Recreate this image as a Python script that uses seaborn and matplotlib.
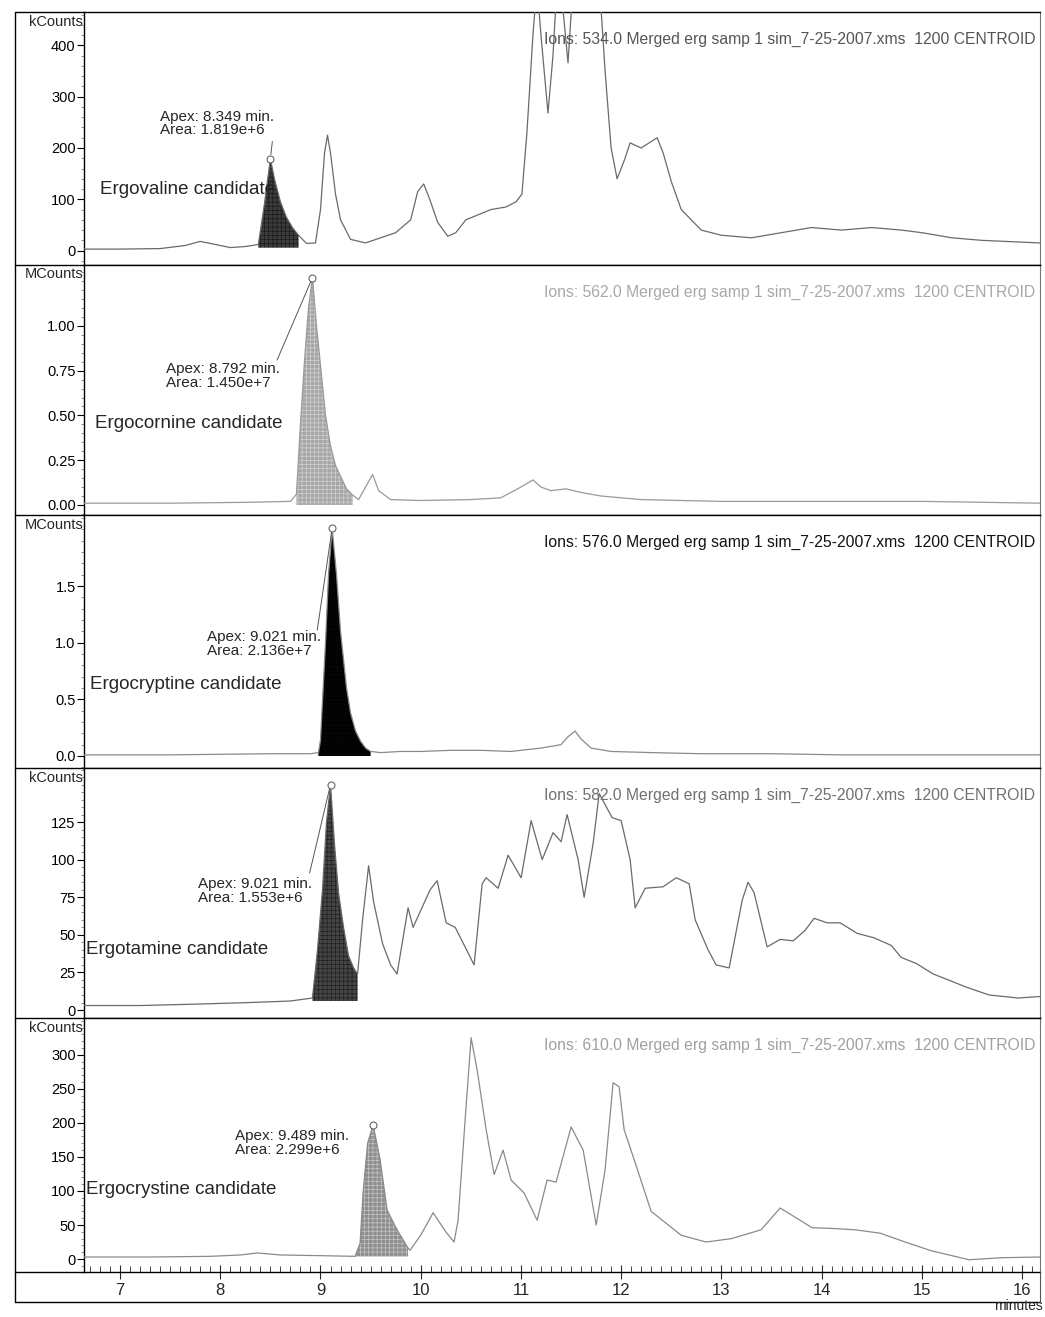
import numpy as np
import pandas as pd
import matplotlib
matplotlib.use("Agg")
import matplotlib.pyplot as plt
import seaborn as sns
from matplotlib.ticker import MultipleLocator, FormatStrFormatter
from matplotlib.lines import Line2D

# ---------------- data ----------------
time_1 = [6.64, 7.0, 7.4, 7.65, 7.8, 7.95, 8.1, 8.25, 8.38, 8.44, 8.50, 8.54, 8.60, 8.66, 8.72, 8.78,
          8.86, 8.95, 9.0, 9.04, 9.07, 9.10, 9.15, 9.2, 9.3, 9.45, 9.6, 9.75, 9.9, 9.97, 10.03, 10.09,
          10.17, 10.27, 10.35, 10.45, 10.55, 10.7, 10.85, 10.95, 11.01, 11.06, 11.12, 11.16, 11.20,
          11.27, 11.32, 11.36, 11.42, 11.47, 11.52, 11.6, 11.7, 11.79, 11.84, 11.90, 11.96, 12.03,
          12.09, 12.2, 12.36, 12.42, 12.5, 12.6, 12.8, 13.0, 13.3, 13.6, 13.9, 14.2, 14.5, 14.8,
          15.0, 15.3, 15.6, 16.18]
signal_1 = [3, 3, 4, 10, 18, 12, 6, 8, 12, 90, 179, 140, 95, 65, 45, 30,
            14, 15, 80, 190, 225, 190, 110, 60, 22, 15, 25, 35, 60, 115, 130, 100,
            55, 28, 35, 60, 68, 80, 85, 95, 110, 230, 420, 520, 420,
            268, 380, 520, 470, 366, 520, 560, 560, 500, 350, 200, 140, 175,
            210, 200, 220, 190, 135, 80, 40, 30, 25, 35, 45, 40, 45, 40,
            35, 25, 20, 15]

time_2 = [6.64, 7.5, 8.3, 8.70, 8.76, 8.80, 8.84, 8.88, 8.92, 8.96, 9.00, 9.05, 9.10, 9.15, 9.20,
          9.26, 9.32, 9.38, 9.45, 9.52, 9.58, 9.7, 10.0, 10.5, 10.8, 11.0, 11.12, 11.2, 11.3,
          11.45, 11.6, 11.8, 12.2, 13.0, 14.0, 15.0, 16.18]
signal_2 = [0.01, 0.01, 0.015, 0.02, 0.06, 0.45, 0.8, 1.1, 1.27, 1.0, 0.78, 0.5, 0.33, 0.22, 0.16,
            0.09, 0.056, 0.03, 0.1, 0.17, 0.08, 0.03, 0.025, 0.03, 0.04, 0.1, 0.14, 0.1, 0.08,
            0.09, 0.07, 0.05, 0.03, 0.02, 0.02, 0.02, 0.01]

time_3 = [6.64, 7.5, 8.5, 8.9, 8.98, 9.00, 9.05, 9.08, 9.116, 9.16, 9.20, 9.23, 9.26, 9.30, 9.35,
          9.40, 9.45, 9.50, 9.6, 9.8, 10.0, 10.3, 10.6, 10.9, 11.2, 11.4, 11.47, 11.54, 11.6,
          11.7, 11.9, 12.3, 12.8, 13.5, 14.2, 15.0, 15.6, 16.18]
signal_3 = [0.01, 0.01, 0.02, 0.02, 0.03, 0.14, 1.0, 1.6, 2.01, 1.6, 1.1, 0.85, 0.6, 0.38, 0.22,
            0.13, 0.07, 0.04, 0.03, 0.04, 0.04, 0.05, 0.05, 0.04, 0.07, 0.1, 0.17, 0.22, 0.15,
            0.07, 0.04, 0.03, 0.02, 0.02, 0.01, 0.01, 0.01, 0.01]

time_4 = [6.64, 7.2, 7.8, 8.3, 8.7, 8.92, 8.97, 9.02, 9.06, 9.10, 9.14, 9.18, 9.23, 9.28, 9.33,
          9.37, 9.42, 9.48, 9.53, 9.62, 9.70, 9.764, 9.874, 9.924, 10.094, 10.164, 10.254, 10.344,
          10.443, 10.533, 10.613, 10.653, 10.773, 10.872, 11.002, 11.102, 11.212, 11.321, 11.401,
          11.461, 11.571, 11.631, 11.721, 11.781, 11.910, 12.000, 12.090, 12.140, 12.240, 12.419,
          12.55, 12.679, 12.739, 12.868, 12.948, 13.078, 13.208, 13.267, 13.327, 13.457, 13.587,
          13.717, 13.836, 13.926, 14.056, 14.186, 14.356, 14.525, 14.695, 14.795, 14.944, 15.114,
          15.453, 15.673, 15.962, 16.18]
signal_4 = [3, 3, 4, 5, 6, 8, 40, 80, 125, 150, 110, 78, 55, 36, 28,
            24, 60, 96, 72, 44, 30, 24, 68, 55, 80, 86, 58, 55,
            42, 30, 84, 88, 81, 103, 88, 126, 100, 118, 112,
            130, 100, 75, 111, 144, 128, 126, 100, 68, 81, 82,
            88, 84, 60, 40, 30, 28, 73, 85, 78, 42, 47,
            46, 53, 61, 58, 58, 51, 48, 43, 35, 31, 24,
            15, 10, 8, 9]

time_5 = [6.64, 7.3, 7.9, 8.2, 8.37, 8.6, 9.0, 9.345, 9.395, 9.425, 9.47, 9.525, 9.595, 9.665,
          9.764, 9.874, 9.894, 10.0, 10.124, 10.25, 10.333, 10.373, 10.443, 10.503, 10.563,
          10.653, 10.733, 10.822, 10.902, 11.032, 11.162, 11.261, 11.351, 11.501, 11.621, 11.751,
          11.840, 11.920, 11.980, 12.030, 12.130, 12.3, 12.599, 12.848, 13.1, 13.397, 13.587,
          13.786, 13.906, 14.1, 14.335, 14.585, 14.834, 15.1, 15.473, 15.8, 16.18]
signal_5 = [3, 3, 4, 6, 9, 6, 5, 4, 23, 97, 170, 197, 146, 72,
            43, 16, 13, 35, 68, 40, 25, 57, 204, 325, 278,
            190, 124, 160, 116, 97, 57, 116, 113, 194, 160, 50,
            131, 259, 253, 190, 146, 70, 35, 25, 30, 43, 75,
            57, 46, 45, 43, 38, 25, 12, -1, 2, 3]

unit_labels = ["kCounts", "MCounts", "MCounts", "kCounts", "kCounts"]
compound_labels = ["Ergovaline candidate", "Ergocornine candidate", "Ergocryptine candidate",
                   "Ergotamine candidate", "Ergocrystine candidate"]
apex_labels = ["Apex: 8.349 min.\nArea: 1.819e+6", "Apex: 8.792 min.\nArea: 1.450e+7",
               "Apex: 9.021 min.\nArea: 2.136e+7", "Apex: 9.021 min.\nArea: 1.553e+6",
               "Apex: 9.489 min.\nArea: 2.299e+6"]
ion_labels = ["Ions: 534.0 Merged erg samp 1 sim_7-25-2007.xms  1200 CENTROID",
              "Ions: 562.0 Merged erg samp 1 sim_7-25-2007.xms  1200 CENTROID",
              "Ions: 576.0 Merged erg samp 1 sim_7-25-2007.xms  1200 CENTROID",
              "Ions: 582.0 Merged erg samp 1 sim_7-25-2007.xms  1200 CENTROID",
              "Ions: 610.0 Merged erg samp 1 sim_7-25-2007.xms  1200 CENTROID"]
peak_windows = [(8.38, 8.78), (8.76, 9.32), (8.98, 9.50), (8.92, 9.37), (9.345, 9.874)]
peak_bases = [6, 0.0, 0.0, 6, 4]
y_ticks = [[0, 100, 200, 300, 400], [0, 0.25, 0.5, 0.75, 1.0], [0, 0.5, 1.0, 1.5],
           [0, 25, 50, 75, 100, 125], [0, 50, 100, 150, 200, 250, 300]]
x_ticks = [7, 8, 9, 10, 11, 12, 13, 14, 15, 16]

# ---------------- styling / layout ----------------
sns.set_style("ticks")
plt.rcParams["font.family"] = ["Liberation Sans", "DejaVu Sans"]
plt.rcParams["hatch.linewidth"] = 0.5

W, H = 1045, 1317
fig = plt.figure(figsize=(W / 100, H / 100), dpi=100)
bounds = [12, 265, 515, 768, 1018, 1272]
LEFT, RIGHT = 84, 1040
XLIM = (6.64, 16.18)

ylims = [(-28, 465), (-0.056, 1.34), (-0.106, 2.127), (-5.3, 161), (-19, 354)]
y_minor = [20, 0.05, 0.1, 5, 10]
y_fmt = ["%d", "%.2f", "%.1f", "%d", "%d"]
trace_colors = ["#6a6a6a", "#9a9a9a", "#8a8a8a", "#6a6a6a", "#8a8a8a"]
fill_colors = ["#3c3c3c", "#a6a6a6", "#050505", "#454545", "#8e8e8e"]
hatch_colors = ["#1a1a1a", "#d0d0d0", "#000000", "#202020", "#c4c4c4"]
ion_colors = ["#555555", "#a8a8a8", "#111111", "#707070", "#a0a0a0"]
cand_pos = [(0.017, 0.30), (0.011, 0.368), (0.006, 0.332), (0.002, 0.272), (0.002, 0.323)]
apex_pos = [(0.0795, 0.56), (0.0858, 0.556), (0.1287, 0.49), (0.119, 0.508), (0.158, 0.508)]
leader_start = [(0.197, 0.488), (0.202, 0.62), (0.244, 0.545), (0.236, 0.58), None]

times = [time_1, time_2, time_3, time_4, time_5]
signals = [signal_1, signal_2, signal_3, signal_4, signal_5]

axes = []
for i in range(5):
    top, bot = bounds[i], bounds[i + 1]
    ax = fig.add_axes([LEFT / W, 1 - bot / H, (RIGHT - LEFT) / W, (bot - top) / H])
    axes.append(ax)
    t = np.array(times[i], dtype=float)
    v = np.array(signals[i], dtype=float)
    df = pd.DataFrame({"time": t, "signal": v})

    # filled candidate peak
    lo, hi = peak_windows[i]
    m = (t >= lo - 1e-9) & (t <= hi + 1e-9)
    ax.fill_between(t[m], peak_bases[i], v[m], facecolor=fill_colors[i],
                    edgecolor=hatch_colors[i], hatch="++++", linewidth=0, zorder=2)

    sns.lineplot(data=df, x="time", y="signal", ax=ax, color=trace_colors[i],
                 linewidth=0.9, estimator=None, sort=False, zorder=3)

    # apex marker + leader line
    idx = np.where(m)[0][np.argmax(v[m])]
    ax.plot(t[idx], v[idx], "o", mfc="white", mec="#666666", ms=5, mew=0.8, zorder=4)
    if leader_start[i] is not None:
        ax.annotate("", xy=(t[idx], v[idx]), xycoords="data",
                    xytext=leader_start[i], textcoords="axes fraction",
                    arrowprops=dict(arrowstyle="-", color="#555555", lw=0.7,
                                    shrinkA=0, shrinkB=3))

    ax.text(apex_pos[i][0], apex_pos[i][1], apex_labels[i], transform=ax.transAxes,
            ha="left", va="center", fontsize=11, linespacing=0.95, zorder=5)
    ax.text(cand_pos[i][0], cand_pos[i][1], compound_labels[i], transform=ax.transAxes,
            ha="left", va="center", fontsize=13.5, zorder=5)
    ax.annotate(ion_labels[i], xy=(0.995, 1.0), xycoords="axes fraction",
                xytext=(0, -19.5), textcoords="offset points", ha="right", va="center",
                fontsize=11.3, color=ion_colors[i], zorder=5)
    ax.text(-0.001, 0.99, unit_labels[i], transform=ax.transAxes, ha="right", va="top",
            fontsize=10.5)

    ax.set_xlim(*XLIM)
    ax.set_ylim(*ylims[i])
    ax.set_yticks(y_ticks[i])
    ax.yaxis.set_major_formatter(FormatStrFormatter(y_fmt[i]))
    ax.yaxis.set_minor_locator(MultipleLocator(y_minor[i]))
    ax.tick_params(axis="y", which="major", direction="out", length=5, width=0.8,
                   labelsize=10.5, pad=1, colors="black")
    ax.tick_params(axis="y", which="minor", direction="out", length=2.5, width=0.5,
                   color="#666666")
    ax.set_xlabel("")
    ax.set_ylabel("")
    for side in ["left", "top", "bottom"]:
        ax.spines[side].set_color("black")
        ax.spines[side].set_linewidth(1.0)
    ax.spines["right"].set_color("#777777")
    ax.spines["right"].set_linewidth(0.8)

    if i < 4:
        ax.tick_params(axis="x", which="both", bottom=False, labelbottom=False)
    else:
        ax.set_xticks(x_ticks)
        ax.xaxis.set_minor_locator(MultipleLocator(0.1))
        ax.tick_params(axis="x", which="major", direction="inout", length=10, width=0.8,
                       labelsize=12, pad=3)
        ax.tick_params(axis="x", which="minor", direction="in", length=4, width=0.6)

# outer frame of the printout
def fline(x0, y0, x1, y1, lw=1.0, color="black"):
    fig.add_artist(Line2D([x0 / W, x1 / W], [1 - y0 / H, 1 - y1 / H], color=color, lw=lw,
                          transform=fig.transFigure))

fline(15, 12, 15, 1302)
for b in bounds:
    fline(15, b, LEFT, b)
fline(15, 1302, RIGHT, 1302)
fline(RIGHT, 1272, RIGHT, 1302, lw=0.8, color="#555555")

fig.text(1018 / W, 1 - 1306 / H, "minutes", ha="center", va="center", fontsize=10)

fig.savefig("out.png", dpi=100, facecolor="white")
